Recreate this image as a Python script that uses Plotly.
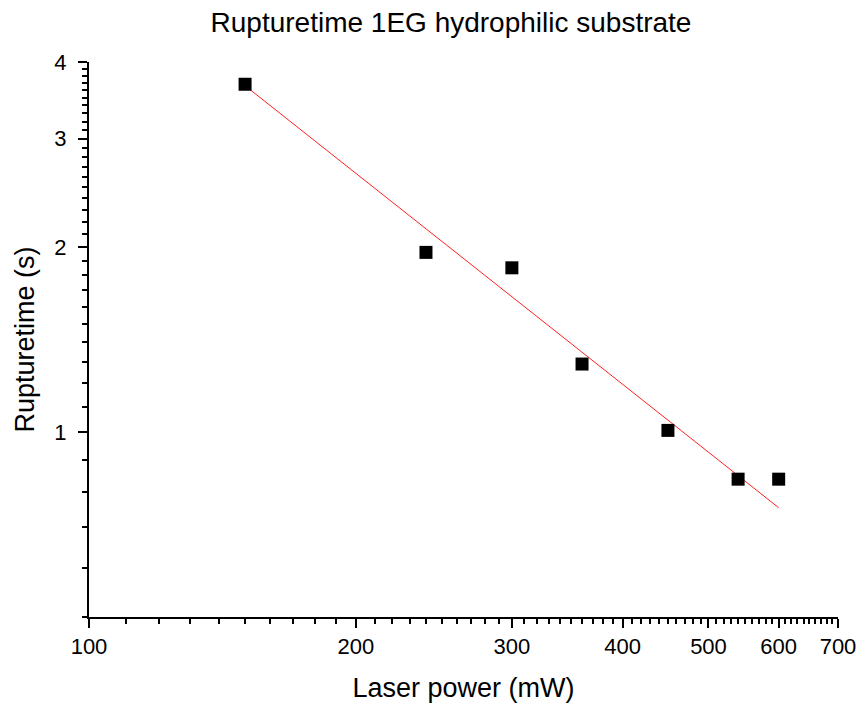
import math
import plotly.graph_objects as go

# Data
power_mw = [150, 240, 300, 360, 450, 540, 600]
rupture_s = [3.68, 1.96, 1.85, 1.29, 1.006, 0.838, 0.838]

# Power-law fit line (endpoints)
fit_power = [150, 600]
fit_rupture = [3.66, 0.753]

x_ticks = [100, 200, 300, 400, 500, 600, 700]
y_ticks = [1, 2, 3, 4]
x_minor = [v for v in range(110, 700, 10) if v % 100 != 0]
y_minor = [round(v / 10, 1) for v in range(5, 40) if v % 10 != 0]

x_range = [math.log10(100), math.log10(700)]
y_range = [math.log10(0.5), math.log10(4)]

FONT = "Liberation Sans, Arial, sans-serif"

fig = go.Figure()
fig.add_trace(go.Scatter(
    x=fit_power, y=fit_rupture, mode="lines",
    line=dict(color="#ff2020", width=1), showlegend=False, hoverinfo="skip"))
fig.add_trace(go.Scatter(
    x=power_mw, y=rupture_s, mode="markers",
    marker=dict(symbol="square", size=13, color="black"), showlegend=False))

axis_common = dict(
    type="log", showgrid=False, zeroline=False, showline=True,
    linecolor="black", linewidth=2, tickcolor="black", tickwidth=2,
)

fig.update_layout(
    width=868, height=711,
    margin=dict(l=89, r=26, t=62, b=94),
    paper_bgcolor="white", plot_bgcolor="white",
    font=dict(family=FONT, color="black"),
    title=dict(text="Rupturetime 1EG hydrophilic substrate",
               x=451 / 868, xref="container", xanchor="center",
               y=1 - 22 / 711, yref="container", yanchor="middle",
               font=dict(size=28, family=FONT, color="black")),
    xaxis=dict(
        **axis_common, range=x_range, tickmode="array", tickvals=x_ticks,
        ticktext=[str(v) for v in x_ticks], ticks="outside", ticklen=9,
        tickfont=dict(size=22), mirror=False,
        minor=dict(tickmode="array", tickvals=x_minor, ticks="outside",
                   ticklen=5, tickwidth=2, tickcolor="black", showgrid=False),
        title=dict(text="Laser power (mW)", font=dict(size=27), standoff=20),
    ),
    yaxis=dict(
        **axis_common, range=y_range, tickmode="array", tickvals=y_ticks,
        ticktext=[str(v) for v in y_ticks], ticks="outside", ticklen=9,
        tickfont=dict(size=22), mirror=False, ticklabelstandoff=7,
        minor=dict(tickmode="array", tickvals=y_minor, ticks="outside",
                   ticklen=5, tickwidth=2, tickcolor="black", showgrid=False),
        title=dict(text="Rupturetime (s)", font=dict(size=27), standoff=12),
    ),
    xaxis2=dict(
        **axis_common, range=x_range, overlaying="x", side="top", anchor="y",
        tickmode="array", tickvals=x_ticks, ticks="inside", ticklen=9,
        showticklabels=False,
        minor=dict(tickmode="array", tickvals=x_minor, ticks="inside",
                   ticklen=5, tickwidth=2, tickcolor="black", showgrid=False),
    ),
    yaxis2=dict(
        **axis_common, range=y_range, overlaying="y", side="right", anchor="x",
        tickmode="array", tickvals=y_ticks, ticks="inside", ticklen=9,
        showticklabels=False,
        minor=dict(tickmode="array", tickvals=y_minor, ticks="inside",
                   ticklen=5, tickwidth=2, tickcolor="black", showgrid=False),
    ),
)

fig.write_html("out.html")
